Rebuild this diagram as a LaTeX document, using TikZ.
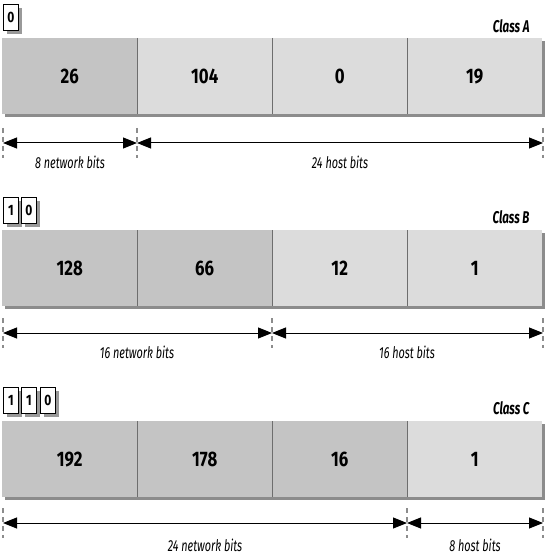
\documentclass[tikz,border=0pt]{standalone}
\usepackage{fontspec}
\setmainfont{Fira Sans}[FakeStretch=0.8]
\newfontfamily\narrowfont{Fira Sans}[FakeStretch=0.68]
\usetikzlibrary{arrows.meta,shadows}
\definecolor{segdark}{HTML}{C4C4C4}
\definecolor{seglight}{HTML}{DCDCDC}
\definecolor{shadowgray}{HTML}{8C8C8C}
\definecolor{divgray}{HTML}{6E6E6E}
\definecolor{dashgray}{HTML}{8C8C8C}
\begin{document}
\begin{tikzpicture}[x=1pt,y=-1pt,
  seg/.style={minimum width=135pt,minimum height=76pt,inner sep=0pt,anchor=north west,
    font=\fontsize{21}{21}\selectfont\bfseries},
  dk/.style={seg,fill=segdark},
  lt/.style={seg,fill=seglight},
  barshadow/.style={fill=shadowgray},
  divider/.style={draw=divgray,line width=1.8pt},
  bitbox/.style={draw=black,line width=0.8pt,fill=white,minimum width=15pt,minimum height=26pt,
    inner sep=0pt,anchor=north west,font=\fontsize{15}{15}\selectfont\bfseries,
    drop shadow={shadow xshift=4pt,shadow yshift=-4pt,fill=gray,opacity=0.8}},
  classlabel/.style={anchor=base east,font=\narrowfont\fontsize{17}{17}\selectfont\bfseries\itshape},
  span/.style={line width=1pt,{Triangle[length=14pt,width=11pt]}-{Triangle[length=14pt,width=11pt]}},
  tick/.style={draw=dashgray,line width=1.3pt,dash pattern=on 5pt off 4pt},
  bitslabel/.style={anchor=base,font=\narrowfont\fontsize{16}{16}\selectfont\itshape}
]
\useasboundingbox (0,0) rectangle (550,556);

% ---------- Class A ----------
\node[bitbox] (a0) at (3,4) {0};
\node[classlabel] (ca) at (533,33) {Class A};
\fill[barshadow] (5,41) rectangle (545,117);
\node[dk] (a1) at (2,38) {26};
\node[lt] (a2) at (137,38) {104};
\node[lt] (a3) at (272,38) {0};
\node[lt] (a4) at (407,38) {19};
\draw[divider] (a1.north east) -- (a1.south east);
\draw[divider] (a2.north east) -- (a2.south east);
\draw[divider] (a3.north east) -- (a3.south east);
\foreach \x/\n in {3/0,137/1,543/2}{
  \coordinate (ta\n t) at (\x,128);
  \coordinate (ta\n b) at (\x,158);
  \coordinate (ta\n) at (\x,143);
  \draw[tick] (ta\n t) -- (ta\n b);
}
\draw[span] (ta0) -- (ta1);
\draw[span] (ta1) -- (ta2);
\node[bitslabel] (la1) at (70,168) {8 network bits};
\node[bitslabel] (la2) at (340,168) {24 host bits};

% ---------- Class B ----------
\node[bitbox] (b0) at (3,197) {1};
\node[bitbox] (b1) at (21,197) {0};
\node[classlabel] (cb) at (533,223) {Class B};
\fill[barshadow] (5,233) rectangle (545,309);
\node[dk] (b2) at (2,230) {128};
\node[dk] (b3) at (137,230) {66};
\node[lt] (b4) at (272,230) {12};
\node[lt] (b5) at (407,230) {1};
\draw[divider] (b2.north east) -- (b2.south east);
\draw[divider] (b3.north east) -- (b3.south east);
\draw[divider] (b4.north east) -- (b4.south east);
\foreach \x/\n in {3/0,272/1,543/2}{
  \coordinate (tb\n t) at (\x,318);
  \coordinate (tb\n b) at (\x,348);
  \coordinate (tb\n) at (\x,333);
  \draw[tick] (tb\n t) -- (tb\n b);
}
\draw[span] (tb0) -- (tb1);
\draw[span] (tb1) -- (tb2);
\node[bitslabel] (lb1) at (137,358) {16 network bits};
\node[bitslabel] (lb2) at (407,358) {16 host bits};

% ---------- Class C ----------
\node[bitbox] (c0) at (3,387) {1};
\node[bitbox] (c1) at (21,387) {1};
\node[bitbox] (c2) at (40,387) {0};
\node[classlabel] (cc) at (533,414) {Class C};
\fill[barshadow] (5,424) rectangle (545,500);
\node[dk] (c3) at (2,421) {192};
\node[dk] (c4) at (137,421) {178};
\node[dk] (c5) at (272,421) {16};
\node[lt] (c6) at (407,421) {1};
\draw[divider] (c3.north east) -- (c3.south east);
\draw[divider] (c4.north east) -- (c4.south east);
\draw[divider] (c5.north east) -- (c5.south east);
\foreach \x/\n in {3/0,407/1,543/2}{
  \coordinate (tc\n t) at (\x,508);
  \coordinate (tc\n b) at (\x,538);
  \coordinate (tc\n) at (\x,523);
  \draw[tick] (tc\n t) -- (tc\n b);
}
\draw[span] (tc0) -- (tc1);
\draw[span] (tc1) -- (tc2);
\node[bitslabel] (lc1) at (205,551) {24 network bits};
\node[bitslabel] (lc2) at (475,551) {8 host bits};
\end{tikzpicture}
\end{document}
